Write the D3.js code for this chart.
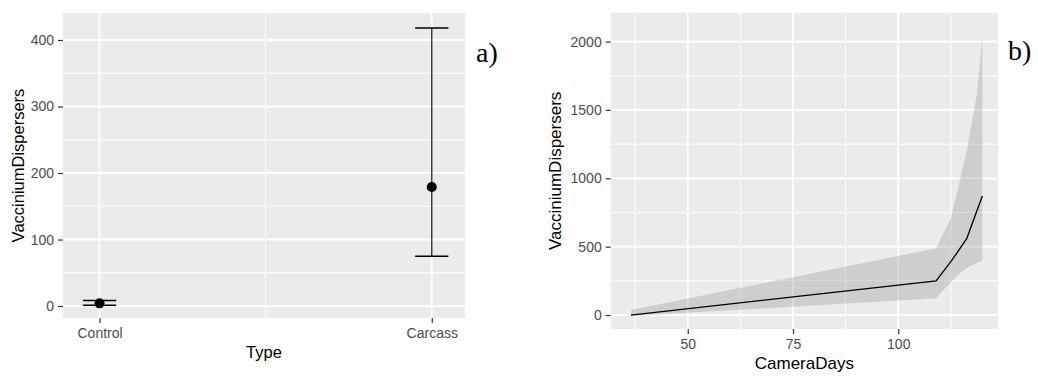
<!DOCTYPE html>
<html>
<head>
<meta charset="utf-8">
<script src="https://cdn.jsdelivr.net/npm/d3@7"></script>
<style>
  body { margin: 0; background: #fff; }
  svg { display: block; }
</style>
</head>
<body>
<div id="chart"></div>
<script>
// panel a) - means with error bars by Type
const types = ["Control", "Carcass"];
const typeMean = [4, 179];
const typeLower = [1, 75];
const typeUpper = [8.5, 418];
const yTicksA = [0, 100, 200, 300, 400];

// panel b) - fitted curve with confidence band
const cameraDays = [36.5, 109, 112.5, 114, 116.3, 118.6, 120];
const fitted = [0, 249, 390, 457, 561, 756, 870];
const bandLower = [-7, 122, 240, 290, 345, 380, 395];
const bandUpper = [37, 488, 710, 900, 1207, 1597, 2036];
const xTicksB = [50, 75, 100];
const yTicksB = [0, 500, 1000, 1500, 2000];

const W = 1038, H = 376;
const font = "'Liberation Sans', Arial, sans-serif";
const tickColor = "#4d4d4d";

const svg = d3.select("#chart")
  .append("svg")
  .attr("width", W)
  .attr("height", H)
  .style("font-family", font);

// generic panel drawing
function drawPanel(p) {
  const g = svg.append("g");
  const [x0, x1] = p.x.range();
  const [y0, y1] = p.y.range(); // bottom, top

  g.append("rect")
    .attr("x", x0).attr("y", y1)
    .attr("width", x1 - x0).attr("height", y0 - y1)
    .attr("fill", "#ebebeb");

  // minor grid
  g.selectAll("line.minor-y")
    .data(p.yMinor)
    .join("line")
    .attr("x1", x0).attr("x2", x1)
    .attr("y1", (d) => p.y(d)).attr("y2", (d) => p.y(d))
    .attr("stroke", "#fff").attr("stroke-width", 1);
  g.selectAll("line.minor-x")
    .data(p.xMinor)
    .join("line")
    .attr("y1", y1).attr("y2", y0)
    .attr("x1", (d) => p.x(d)).attr("x2", (d) => p.x(d))
    .attr("stroke", "#fff").attr("stroke-width", 1);

  // major grid
  g.selectAll("line.major-y")
    .data(p.yTicks)
    .join("line")
    .attr("x1", x0).attr("x2", x1)
    .attr("y1", (d) => p.y(d)).attr("y2", (d) => p.y(d))
    .attr("stroke", "#fff").attr("stroke-width", 1.8);
  g.selectAll("line.major-x")
    .data(p.xTicks)
    .join("line")
    .attr("y1", y1).attr("y2", y0)
    .attr("x1", (d) => p.x(d)).attr("x2", (d) => p.x(d))
    .attr("stroke", "#fff").attr("stroke-width", 1.8);

  // axes
  const yAxis = svg.append("g")
    .attr("transform", `translate(${x0},0)`)
    .call(d3.axisLeft(p.y).tickValues(p.yTicks).tickSize(5).tickPadding(4)
      .tickFormat(d3.format("d")).tickSizeOuter(0));
  const xAxis = svg.append("g")
    .attr("transform", `translate(0,${y0})`)
    .call(d3.axisBottom(p.x).tickValues(p.xTicks).tickSize(5).tickPadding(5)
      .tickFormat(p.xFormat || d3.format("d")).tickSizeOuter(0));
  [yAxis, xAxis].forEach((a) => {
    a.select(".domain").remove();
    a.selectAll(".tick line").attr("stroke", "#333").attr("stroke-width", 1.2);
    a.selectAll(".tick text")
      .attr("fill", tickColor)
      .style("font-size", "14px")
      .style("font-family", font);
  });

  svg.append("text")
    .attr("x", (x0 + x1) / 2).attr("y", p.xTitleY)
    .attr("text-anchor", "middle")
    .style("font-size", p.titleSize + "px")
    .attr("fill", "#000")
    .text(p.xTitle);
  svg.append("text")
    .attr("transform", `translate(${p.yTitleX},${(y0 + y1) / 2}) rotate(-90)`)
    .attr("text-anchor", "middle")
    .style("font-size", p.titleSize + "px")
    .attr("fill", "#000")
    .text(p.yTitle);

  svg.append("text")
    .attr("x", p.tag[0]).attr("y", p.tag[1])
    .style("font-family", "'Liberation Serif', 'Times New Roman', serif")
    .style("font-size", "28px")
    .attr("fill", "#000")
    .text(p.tagText);

  return g;
}

// ---- panel a ----
const xA = d3.scaleLinear().domain([0.89, 2.1]).range([63, 465]);
const yA = d3.scaleLinear().domain([-18, 440.6]).range([318, 13]);
const gA = drawPanel({
  x: xA, y: yA,
  xTicks: [1, 2], xMinor: [1.5],
  xFormat: (d) => types[d - 1],
  yTicks: yTicksA, yMinor: [50, 150, 250, 350],
  xTitle: "Type", yTitle: "VacciniumDispersers",
  xTitleY: 358, yTitleX: 24, titleSize: 16.5,
  tag: [476, 62], tagText: "a)"
});

const typeData = types.map((t, i) => ({
  pos: i + 1, mean: typeMean[i], lo: typeLower[i], hi: typeUpper[i]
}));
const capHalf = 0.05;
const bars = gA.selectAll("g.err").data(typeData).join("g");
bars.append("line")
  .attr("x1", (d) => xA(d.pos)).attr("x2", (d) => xA(d.pos))
  .attr("y1", (d) => yA(d.lo)).attr("y2", (d) => yA(d.hi))
  .attr("stroke", "#222").attr("stroke-width", 1.3);
bars.selectAll("line.cap")
  .data((d) => [[d.pos, d.lo], [d.pos, d.hi]])
  .join("line")
  .attr("x1", (d) => xA(d[0] - capHalf)).attr("x2", (d) => xA(d[0] + capHalf))
  .attr("y1", (d) => yA(d[1])).attr("y2", (d) => yA(d[1]))
  .attr("stroke", "#000").attr("stroke-width", 1.5);
bars.append("circle")
  .attr("cx", (d) => xA(d.pos)).attr("cy", (d) => yA(d.mean))
  .attr("r", 5).attr("fill", "#000");

// ---- panel b ----
const xB = d3.scaleLinear().domain([31.7, 123.7]).range([610.7, 998]);
const yB = d3.scaleLinear().domain([-102, 2211]).range([329, 12.7]);
const gB = drawPanel({
  x: xB, y: yB,
  xTicks: xTicksB, xMinor: [37.5, 62.5, 87.5, 112.5],
  yTicks: yTicksB, yMinor: [250, 750, 1250, 1750],
  xTitle: "CameraDays", yTitle: "VacciniumDispersers",
  xTitleY: 369, yTitleX: 561, titleSize: 17,
  tag: [1008, 60], tagText: "b)"
});

const curve = cameraDays.map((x, i) => ({
  x, fit: fitted[i], lo: bandLower[i], hi: bandUpper[i]
}));
gB.append("path")
  .datum(curve)
  .attr("d", d3.area().x((d) => xB(d.x)).y0((d) => yB(d.lo)).y1((d) => yB(d.hi)))
  .attr("fill", "#999")
  .attr("fill-opacity", 0.35);
gB.append("path")
  .datum(curve)
  .attr("d", d3.line().x((d) => xB(d.x)).y((d) => yB(d.fit)))
  .attr("fill", "none")
  .attr("stroke", "#000")
  .attr("stroke-width", 1.3);
</script>
</body>
</html>
